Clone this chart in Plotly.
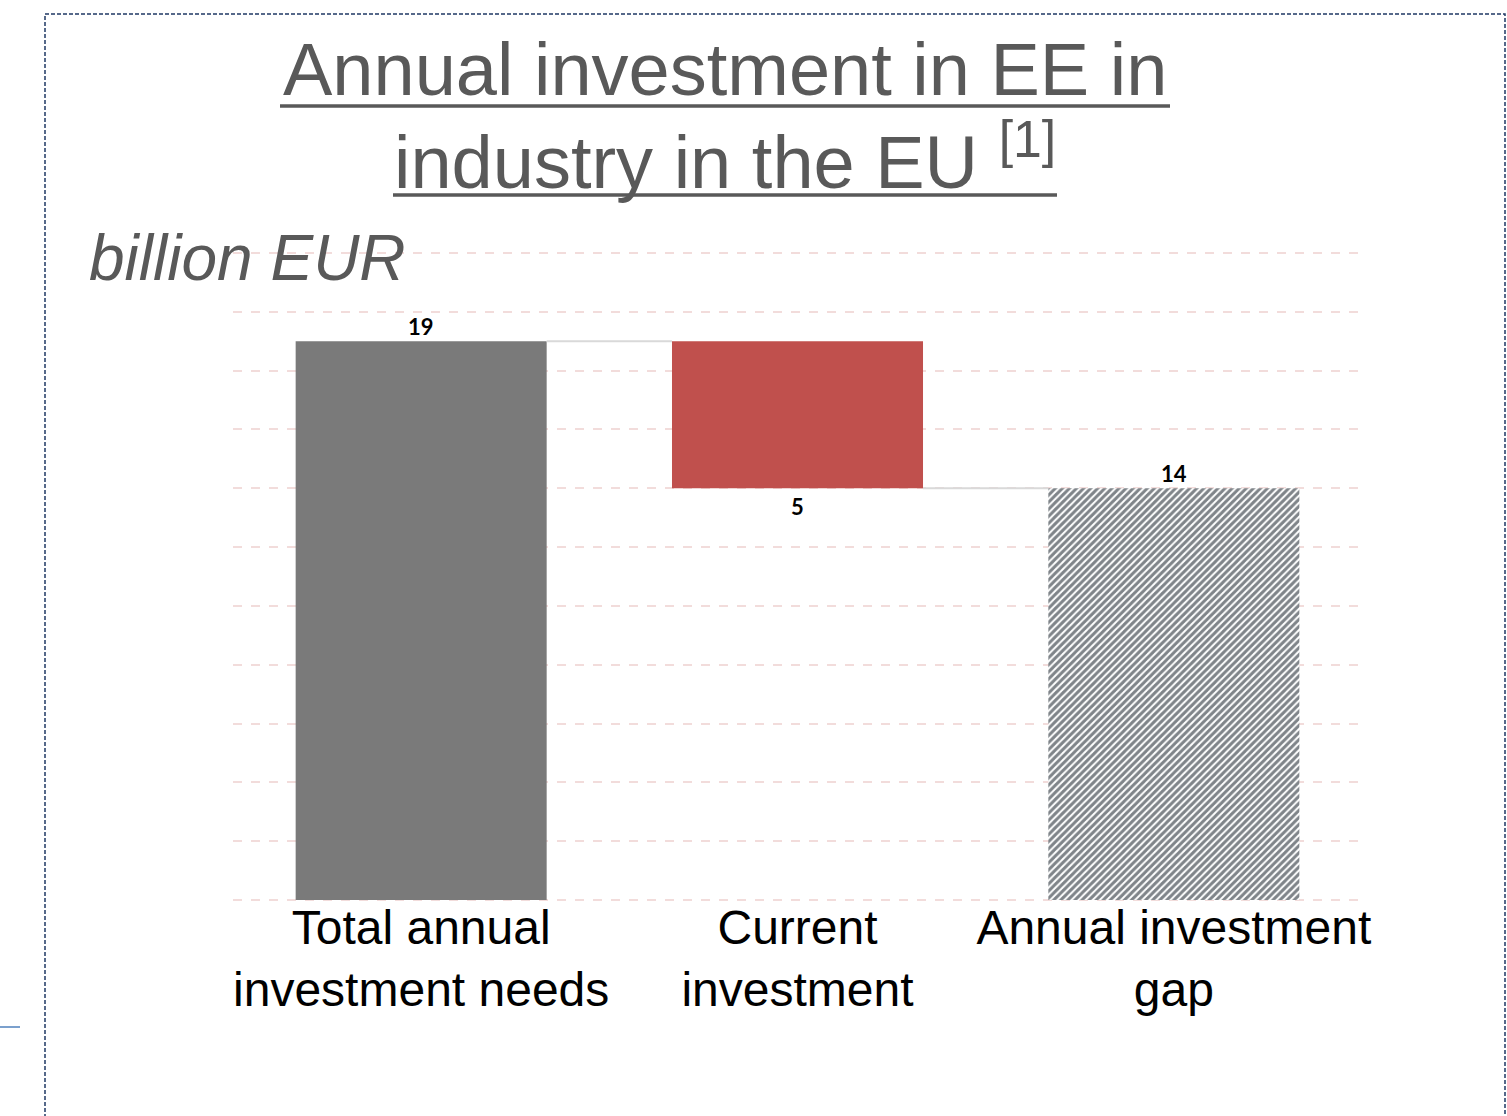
import plotly.graph_objects as go

# ---- data ----
categories = ["Total annual<br>investment needs", "Current<br>investment", "Annual investment<br>gap"]
values = [19, -5, 14]
measures = ["total", "decrease", "total"]
label_text = ["19", "5", "14"]

# ---- derived bar geometry from data ----
bases = []
heights = []
running = 0
for v, m in zip(values, measures):
    if m == "total":
        bases.append(0)
        heights.append(v)
        running = v
    else:
        new = running + v
        bases.append(min(running, new))
        heights.append(abs(v))
        running = new

W, H = 1507, 1116
L, R, T, B = 233, 145, 250, 213
PW, PH = W - L - R, H - T - B


def px_x(p):
    return (p - L) / PW


def px_y(p):
    return (H - B - p) / PH


xs = list(range(len(categories)))
bar_width = 0.667

fig = go.Figure()

fig.add_trace(go.Bar(
    x=[xs[0]], y=[heights[0]], base=[bases[0]], width=bar_width,
    marker=dict(color="#7a7a7a", line=dict(width=0)), showlegend=False, hoverinfo="skip"))
fig.add_trace(go.Bar(
    x=[xs[1]], y=[heights[1]], base=[bases[1]], width=bar_width,
    marker=dict(color="#c0504d", line=dict(width=0)), showlegend=False, hoverinfo="skip"))
fig.add_trace(go.Bar(
    x=[xs[2]], y=[heights[2]], base=[bases[2]], width=bar_width,
    marker=dict(color="white", line=dict(width=0),
                pattern=dict(shape="/", fgcolor="#000a14", bgcolor="white", size=5, solidity=0.6)),
    showlegend=False, hoverinfo="skip"))

# connectors
levels = [bases[i] + heights[i] for i in range(len(values))]
conn_y = [levels[0], bases[1]]
for i, yv in enumerate(conn_y):
    fig.add_trace(go.Scatter(
        x=[xs[i] + bar_width / 2, xs[i + 1] - bar_width / 2], y=[yv, yv],
        mode="lines", line=dict(color="#d9d9d9", width=2), showlegend=False, hoverinfo="skip"))

# data labels
for i, m in enumerate(measures):
    if m == "total":
        yv, shift = bases[i] + heights[i], 15
    else:
        yv, shift = bases[i], -18
    fig.add_annotation(x=xs[i], y=yv, xref="x", yref="y", text="<b>%s</b>" % label_text[i],
                       showarrow=False, xanchor="center", yanchor="middle", yshift=shift,
                       font=dict(family="Lato", size=22, color="black"))

fig.update_layout(
    width=W, height=H,
    margin=dict(l=L, r=R, t=T, b=B, pad=0),
    paper_bgcolor="white", plot_bgcolor="white",
    barmode="overlay",
    xaxis=dict(range=[-0.5, 2.5], tickmode="array", tickvals=xs, ticktext=categories,
               tickfont=dict(family="Liberation Sans, Arial", size=48, color="black"),
               ticklabelstandoff=-8,
               showgrid=False, zeroline=False, showline=False, ticks=""),
    yaxis=dict(range=[-0.1, 22.1], dtick=2, tick0=0, showticklabels=False,
               showgrid=True, gridcolor="#f2dcdb", griddash="dash", gridwidth=1.5,
               zeroline=False, showline=False, ticks=""),
    font=dict(family="Liberation Sans, Arial"),
)

# title lines
TITLE_COLOR = "#595959"
fig.add_annotation(x=px_x(725), y=px_y(69), xref="paper", yref="paper",
                   text="Annual investment in EE in", showarrow=False,
                   xanchor="center", yanchor="middle",
                   font=dict(family="Liberation Sans, Arial", size=74, color=TITLE_COLOR))
fig.add_annotation(x=px_x(725), y=px_y(157), xref="paper", yref="paper",
                   text="industry in the EU <sup>[1]</sup>", showarrow=False,
                   xanchor="center", yanchor="middle",
                   font=dict(family="Liberation Sans, Arial", size=74, color=TITLE_COLOR))
# title underlines
for (xa, xb, yy) in [(280, 1170, 106), (393, 1057, 195)]:
    fig.add_shape(type="line", xref="paper", yref="paper",
                  x0=px_x(xa), x1=px_x(xb), y0=px_y(yy), y1=px_y(yy),
                  line=dict(color=TITLE_COLOR, width=3.5))

fig.add_annotation(x=px_x(87), y=px_y(258), xref="paper", yref="paper",
                   text="<i>billion EUR</i>", showarrow=False,
                   xanchor="left", yanchor="middle",
                   font=dict(family="Liberation Sans, Arial", size=64, color=TITLE_COLOR))

# dashed frame and small blue line
fig.add_shape(type="path", xref="paper", yref="paper",
              path="M %f %f L %f %f L %f %f L %f %f" % (
                  px_x(45), px_y(1130), px_x(45), px_y(14), px_x(1505), px_y(14), px_x(1505), px_y(1130)),
              line=dict(color="#1f3864", width=1.5, dash="4px,2px"))
fig.add_shape(type="line", xref="paper", yref="paper",
              x0=px_x(0), x1=px_x(20), y0=px_y(1027), y1=px_y(1027),
              line=dict(color="#4f81bd", width=1.5))

fig.write_html("out.html")
